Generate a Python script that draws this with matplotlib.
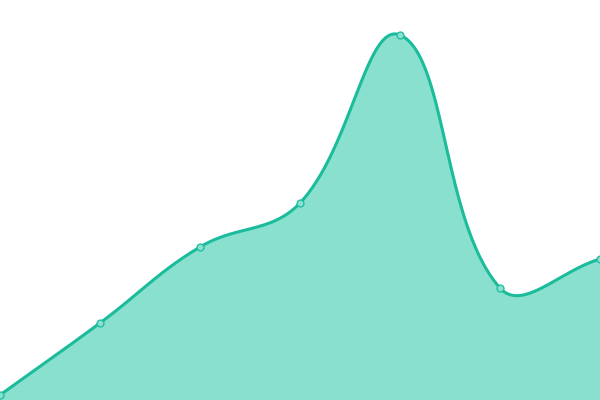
import numpy as np
import matplotlib
matplotlib.use("Agg")
import matplotlib.pyplot as plt

labels = ["A", "B", "C", "D", "E", "F", "G"]
values = [5, 77, 153, 197, 365, 112, 141]

line_color = "#1abc9c"
fill_color = "#8ae0cf"
tension = 0.4


def spline_path(xs, ys, t, steps=60):
    # chart.js style bezier control points
    n = len(xs)
    pts = np.column_stack([xs, ys]).astype(float)
    cps = []
    for i in range(n):
        prev = pts[max(i - 1, 0)]
        cur = pts[i]
        nxt = pts[min(i + 1, n - 1)]
        d01 = np.hypot(*(cur - prev))
        d12 = np.hypot(*(nxt - cur))
        tot = d01 + d12
        s01 = d01 / tot if tot else 0
        s12 = d12 / tot if tot else 0
        fa = t * s01
        fb = t * s12
        cps.append((cur - fa * (nxt - prev), cur + fb * (nxt - prev)))
    out_x, out_y = [], []
    u = np.linspace(0, 1, steps)
    for i in range(n - 1):
        p0 = pts[i]
        p1 = cps[i][1]
        p2 = cps[i + 1][0]
        p3 = pts[i + 1]
        seg = ((1 - u) ** 3)[:, None] * p0 + (3 * (1 - u) ** 2 * u)[:, None] * p1 \
            + (3 * (1 - u) * u ** 2)[:, None] * p2 + (u ** 3)[:, None] * p3
        out_x.extend(seg[:, 0])
        out_y.extend(seg[:, 1])
    return np.array(out_x), np.array(out_y)


xs = np.arange(len(labels)) * 100.0
cx, cy = spline_path(xs, values, tension)

fig = plt.figure(figsize=(6, 4), dpi=100)
ax = fig.add_axes([0, 0, 1, 1])
ax.fill_between(cx, cy, 0, color=fill_color, linewidth=0)
ax.plot(cx, cy, color=line_color, linewidth=2.2, solid_capstyle="round")
ax.plot(xs, values, linestyle="none", marker="o", markersize=5,
        markerfacecolor=fill_color, markeredgecolor=line_color, markeredgewidth=0.9)
ax.set_xlim(0, 600)
ax.set_ylim(0, 400)
ax.axis("off")
fig.savefig("out.png", dpi=100)
